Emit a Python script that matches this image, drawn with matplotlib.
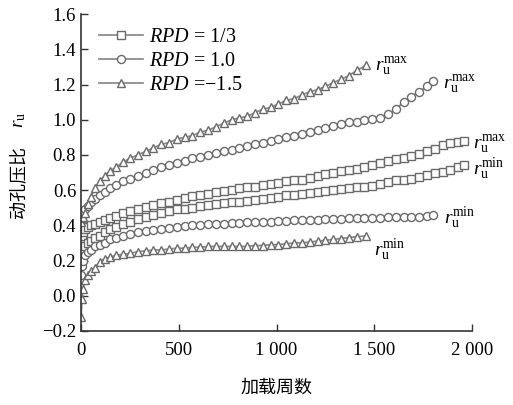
import matplotlib
matplotlib.use("Agg")
import matplotlib.pyplot as plt

plt.rcParams['font.family'] = ['Liberation Serif', 'Noto Sans CJK SC']
plt.rcParams['mathtext.fontset'] = 'custom'
plt.rcParams['mathtext.rm'] = 'Liberation Serif'
plt.rcParams['mathtext.it'] = 'Liberation Serif:italic'

# RPD = -1.5 (triangles)
tri_x = [0, 5, 10, 20, 35, 50, 70, 95, 120, 150, 180, 215, 250, 290, 330, 370, 410, 450,
         490, 530, 570, 610, 650, 690, 730, 770, 810, 850, 890, 930, 970, 1010, 1050,
         1090, 1130, 1170, 1210, 1250, 1290, 1330, 1370, 1410, 1460]
tri_max = [0.42, 0.44, 0.45, 0.47, 0.52, 0.56, 0.61, 0.65, 0.68, 0.71, 0.73, 0.76, 0.78,
           0.80, 0.82, 0.84, 0.86, 0.87, 0.89, 0.90, 0.91, 0.93, 0.94, 0.96, 0.98, 1.00,
           1.01, 1.02, 1.04, 1.06, 1.07, 1.09, 1.11, 1.12, 1.14, 1.16, 1.17, 1.19, 1.21,
           1.23, 1.25, 1.28, 1.31]
tri_min = [-0.12, -0.02, 0.04, 0.09, 0.12, 0.14, 0.16, 0.19, 0.21, 0.22, 0.23, 0.235,
           0.24, 0.25, 0.255, 0.26, 0.26, 0.265, 0.27, 0.27, 0.275, 0.275, 0.28, 0.28,
           0.28, 0.28, 0.28, 0.28, 0.285, 0.285, 0.29, 0.29, 0.295, 0.30, 0.30, 0.305,
           0.31, 0.315, 0.32, 0.325, 0.33, 0.335, 0.34]

# RPD = 1.0 (circles)
cir_x = [0, 5, 10, 20, 35, 50, 70, 95, 120, 150, 180, 215, 250, 290, 330, 370, 410, 450,
         490, 530, 570, 610, 650, 690, 730, 770, 810, 850, 890, 930, 970, 1010, 1050,
         1090, 1130, 1170, 1210, 1250, 1290, 1330, 1370, 1410, 1450, 1490, 1530, 1570,
         1610, 1650, 1690, 1730, 1770, 1800]
cir_max = [0.43, 0.45, 0.47, 0.49, 0.51, 0.53, 0.55, 0.57, 0.59, 0.61, 0.63, 0.65, 0.665,
           0.68, 0.70, 0.715, 0.73, 0.74, 0.755, 0.765, 0.78, 0.79, 0.80, 0.81, 0.82,
           0.83, 0.84, 0.85, 0.86, 0.87, 0.88, 0.89, 0.90, 0.91, 0.92, 0.93, 0.94, 0.955,
           0.965, 0.975, 0.985, 0.99, 1.00, 1.005, 1.01, 1.03, 1.06, 1.10, 1.13, 1.16,
           1.19, 1.22]
cir_min = [0.12, 0.17, 0.20, 0.23, 0.25, 0.26, 0.28, 0.29, 0.30, 0.32, 0.33, 0.34, 0.35,
           0.36, 0.37, 0.375, 0.38, 0.385, 0.39, 0.395, 0.40, 0.40, 0.405, 0.41, 0.41,
           0.415, 0.415, 0.42, 0.42, 0.42, 0.42, 0.425, 0.425, 0.43, 0.43, 0.43, 0.43,
           0.435, 0.435, 0.435, 0.44, 0.44, 0.44, 0.44, 0.44, 0.445, 0.445, 0.445, 0.45,
           0.45, 0.455, 0.46]

# RPD = 1/3 (squares)
sq_x = [0, 5, 10, 20, 35, 50, 70, 95, 120, 150, 180, 215, 250, 290, 330, 370, 410, 450,
        490, 530, 570, 610, 650, 690, 730, 770, 810, 850, 890, 930, 970, 1010, 1050,
        1090, 1130, 1170, 1210, 1250, 1290, 1330, 1370, 1410, 1450, 1490, 1530, 1570,
        1610, 1650, 1690, 1730, 1770, 1810, 1850, 1890, 1930, 1960]
sq_max = [0.30, 0.34, 0.36, 0.38, 0.39, 0.40, 0.41, 0.42, 0.43, 0.44, 0.455, 0.47, 0.48,
          0.495, 0.505, 0.515, 0.525, 0.535, 0.545, 0.555, 0.565, 0.57, 0.58, 0.59,
          0.595, 0.60, 0.61, 0.615, 0.62, 0.63, 0.635, 0.64, 0.65, 0.655, 0.66, 0.67,
          0.68, 0.69, 0.70, 0.71, 0.715, 0.72, 0.73, 0.745, 0.755, 0.765, 0.775, 0.785,
          0.795, 0.805, 0.82, 0.835, 0.855, 0.865, 0.875, 0.88]
sq_min = [0.18, 0.22, 0.25, 0.28, 0.30, 0.31, 0.33, 0.34, 0.36, 0.38, 0.39, 0.405, 0.42,
          0.435, 0.45, 0.46, 0.47, 0.48, 0.49, 0.495, 0.50, 0.51, 0.515, 0.52, 0.525,
          0.53, 0.535, 0.54, 0.545, 0.55, 0.555, 0.56, 0.57, 0.575, 0.58, 0.585, 0.59,
          0.595, 0.60, 0.605, 0.61, 0.615, 0.62, 0.625, 0.635, 0.645, 0.655, 0.66, 0.665,
          0.675, 0.685, 0.695, 0.705, 0.715, 0.73, 0.74]

legend_labels = [r'$\mathit{RPD}$ = 1/3', r'$\mathit{RPD}$ = 1.0', r'$\mathit{RPD}$ =−1.5']
x_ticks = [0, 500, 1000, 1500, 2000]
x_tick_labels = ['0', '500', '1 000', '1 500', '2 000']
y_ticks = [-0.2, 0.0, 0.2, 0.4, 0.6, 0.8, 1.0, 1.2, 1.4, 1.6]
y_tick_labels = ['−0.2', '0.0', '0.2', '0.4', '0.6', '0.8', '1.0', '1.2', '1.4', '1.6']

fig = plt.figure(figsize=(5.13, 4.05), dpi=100)
ax = fig.add_axes([0.158, 0.183, 0.762, 0.782])

line_c = '#8c8c8c'
edge_c = '#6a6a6a'
style = dict(color=line_c, lw=1.3, markerfacecolor='white', markeredgecolor=edge_c,
             markeredgewidth=1.0, markersize=5.8)

h1, = ax.plot(sq_x, sq_max, marker='s', **style)
ax.plot(sq_x, sq_min, marker='s', **style)
h2, = ax.plot(cir_x, cir_max, marker='o', **style)
ax.plot(cir_x, cir_min, marker='o', **style)
h3, = ax.plot(tri_x, tri_max, marker='^', **style)
ax.plot(tri_x, tri_min, marker='^', **style)

# end labels
rmax = r'$r_{\mathrm{u}}^{\mathrm{max}}$'
rmin = r'$r_{\mathrm{u}}^{\mathrm{min}}$'
fs = 14
ax.text(tri_x[-1] + 45, tri_max[-1] - 0.01, rmax, fontsize=fs, va='center', ha='left')
ax.text(cir_x[-1] + 50, cir_max[-1] - 0.02, rmax, fontsize=fs, va='center', ha='left')
ax.text(sq_x[-1] + 45, sq_max[-1] - 0.02, rmax, fontsize=fs, va='center', ha='left', clip_on=False)
ax.text(sq_x[-1] + 45, sq_min[-1] - 0.02, rmin, fontsize=fs, va='center', ha='left', clip_on=False)
ax.text(cir_x[-1] + 55, cir_min[-1] - 0.02, rmin, fontsize=fs, va='center', ha='left')
ax.text(tri_x[-1] + 40, tri_min[-1] - 0.08, rmin, fontsize=fs, va='center', ha='left')

ax.legend([h1, h2, h3], legend_labels, loc='upper left', frameon=False, fontsize=14.5,
          numpoints=1, handlelength=2.2, handletextpad=0.25, labelspacing=0.25,
          bbox_to_anchor=(0.0, 1.015), borderaxespad=0.5)

ax.set_xlim(0, 2000)
ax.set_ylim(-0.2, 1.6)
ax.set_xticks(x_ticks)
ax.set_xticklabels(x_tick_labels)
ax.set_yticks(y_ticks)
ax.set_yticklabels(y_tick_labels)
ax.tick_params(direction='in', length=5, width=1.0, labelsize=13.5, color='#333333')
ax.tick_params(axis='x', pad=8)
for s in ['top', 'right']:
    ax.spines[s].set_visible(False)
for s in ['left', 'bottom']:
    ax.spines[s].set_linewidth(1.2)
    ax.spines[s].set_color('#333333')

ax.set_xlabel('加载周数', fontsize=13, labelpad=15)
# y label: Chinese text and r_u drawn separately (mathtext cannot render CJK)
ax.text(-0.157, 0.47, '动孔压比', rotation=90, fontsize=13, ha='center', va='center',
        transform=ax.transAxes, family=['Noto Sans CJK SC'])
ax.text(-0.157, 0.665, r'$r_{\mathrm{u}}$', rotation=90, fontsize=14, ha='center',
        va='center', transform=ax.transAxes)

fig.savefig('out.png', dpi=100)
